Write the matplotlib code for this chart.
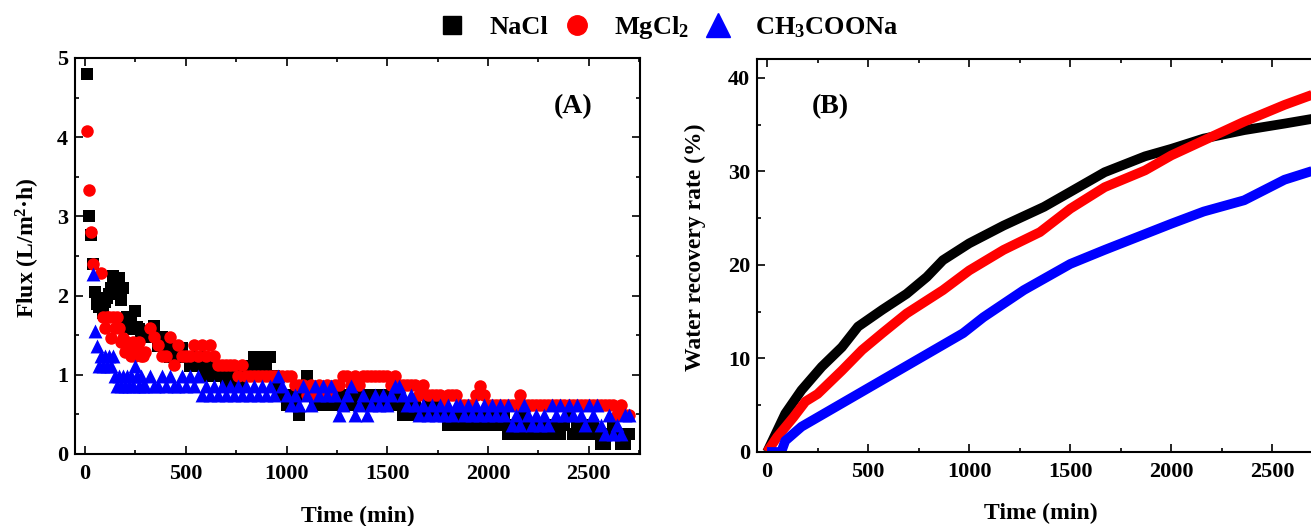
import matplotlib
matplotlib.use('Agg')
import matplotlib.pyplot as plt
from matplotlib.lines import Line2D
from matplotlib.ticker import MultipleLocator
import numpy as np

plt.rcParams['font.family'] = ['Liberation Serif', 'DejaVu Serif']
plt.rcParams['font.weight'] = 'bold'
plt.rcParams['mathtext.default'] = 'regular'

# ---- panel A: flux vs time (min) ----
time_a = [10, 20, 30, 40, 50, 60, 70, 80, 90, 100,
          110, 120, 130, 140, 150, 160, 170, 180, 190, 200,
          210, 220, 230, 240, 250, 260, 270, 280, 290, 300,
          320, 340, 360, 380, 400, 420, 440, 460, 480, 500,
          520, 540, 560, 580, 600, 620, 640, 660, 680, 700,
          720, 740, 760, 780, 800, 820, 840, 860, 880, 900,
          920, 940, 960, 980, 1000, 1020, 1040, 1060, 1080, 1100,
          1120, 1140, 1160, 1180, 1200, 1220, 1240, 1260, 1280, 1300,
          1320, 1340, 1360, 1380, 1400, 1420, 1440, 1460, 1480, 1500,
          1520, 1540, 1560, 1580, 1600, 1620, 1640, 1660, 1680, 1700,
          1720, 1740, 1760, 1780, 1800, 1820, 1840, 1860, 1880, 1900,
          1920, 1940, 1960, 1980, 2000, 2020, 2040, 2060, 2080, 2100,
          2120, 2140, 2160, 2180, 2200, 2220, 2240, 2260, 2280, 2300,
          2320, 2340, 2360, 2380, 2400, 2420, 2440, 2460, 2480, 2500,
          2520, 2540, 2560, 2580, 2600, 2620, 2640, 2660, 2680, 2700]

nan = np.nan
flux_nacl = [4.80, 3.00, 2.77, 2.40, 2.05, 1.90, 1.85, 1.97, 1.78, 1.92,
             1.97, 2.02, 2.10, 2.25, 2.18, 2.05, 2.22, 1.94, 2.10, 1.70,
             1.73, 1.60, 1.70, 1.58, 1.81, 1.60, 1.58, 1.48, 1.55, 1.48,
             1.48, 1.62, 1.36, 1.48, 1.36, 1.23, 1.36, 1.23, 1.34, 1.23,
             1.11, 1.23, 1.11, 1.23, 0.99, 1.11, 0.99, 0.99, 1.11, 0.86,
             0.99, 0.86, 0.99, 0.86, 0.99, 1.11, 1.23, 1.11, 1.23, 1.11,
             1.23, 0.99, 0.86, 0.74, 0.62, 0.74, 0.62, 0.49, 0.74, 0.99,
             0.74, 0.62, 0.74, 0.62, 0.62, 0.74, 0.62, 0.62, 0.74, 0.62,
             0.62, 0.74, 0.62, 0.62, 0.74, 0.62, 0.62, 0.74, 0.62, 0.74,
             0.62, 0.74, 0.62, 0.49, 0.62, 0.49, 0.62, 0.49, 0.49, 0.62,
             0.49, 0.62, 0.49, 0.49, 0.37, 0.49, 0.37, 0.49, 0.37, 0.49,
             0.37, 0.49, 0.37, 0.49, 0.37, 0.37, 0.49, 0.37, 0.49, 0.25,
             0.37, 0.25, 0.37, 0.49, 0.25, 0.37, 0.25, 0.37, 0.25, 0.37,
             0.25, 0.37, 0.25, 0.37, 0.49, 0.25, 0.37, 0.25, 0.37, 0.25,
             0.37, 0.25, 0.12, 0.12, 0.25, 0.37, 0.25, 0.12, 0.12, 0.25]

flux_mgcl2 = [4.08, 3.33, 2.80, 2.40, nan, nan, nan, 2.28, 1.73, 1.59,
              1.73, 1.73, 1.47, 1.73, 1.59, 1.73, 1.59, 1.42, 1.47, 1.29,
              1.42, 1.29, 1.24, 1.42, 1.24, 1.29, 1.42, 1.24, 1.24, 1.29,
              1.59, 1.48, 1.37, 1.24, 1.24, 1.48, 1.12, 1.37, 1.24, 1.24,
              1.24, 1.37, 1.24, 1.37, 1.24, 1.37, 1.24, 1.12, 1.12, 1.12,
              1.12, 1.12, 0.99, 1.12, 0.99, 0.99, 0.99, 0.99, 0.99, 0.99,
              0.99, 0.99, 0.99, 0.99, 0.99, 0.99, 0.87, 0.87, 0.87, 0.74,
              0.87, 0.74, 0.87, 0.74, 0.87, 0.74, 0.87, 0.87, 0.99, 0.99,
              0.87, 0.99, 0.87, 0.99, 0.99, 0.99, 0.99, 0.99, 0.99, 0.99,
              0.87, 0.99, 0.87, 0.87, 0.87, 0.87, 0.87, 0.74, 0.87, 0.74,
              0.74, 0.74, 0.74, 0.62, 0.74, 0.74, 0.74, 0.62, 0.62, 0.62,
              0.62, 0.74, 0.86, 0.74, 0.62, 0.62, 0.62, 0.62, 0.62, 0.62,
              0.62, 0.62, 0.74, 0.62, 0.62, 0.62, 0.62, 0.62, 0.62, 0.62,
              0.62, 0.62, 0.62, 0.62, 0.62, 0.62, 0.62, 0.62, 0.62, 0.62,
              0.62, 0.62, 0.62, 0.62, 0.62, 0.62, 0.49, 0.62, 0.49, 0.49]

flux_ch3coona = [nan, nan, nan, 2.27, 1.55, 1.36, 1.11, 1.24, 1.11, 1.24,
                 1.11, 1.24, 1.11, 1.24, 0.99, 0.86, 0.99, 0.86, 0.99, 0.86,
                 0.99, 0.86, 0.99, 0.86, 1.11, 0.99, 0.86, 0.99, 0.86, 0.86,
                 0.99, 0.86, 0.86, 0.99, 0.86, 0.99, 0.86, 0.86, 0.99, 0.86,
                 0.99, 0.86, 0.99, 0.74, 0.86, 0.74, 0.86, 0.74, 0.86, 0.74,
                 0.86, 0.74, 0.86, 0.74, 0.86, 0.74, 0.86, 0.74, 0.86, 0.74,
                 0.86, 0.74, 0.99, 0.86, 0.74, 0.62, 0.74, 0.62, 0.86, 0.74,
                 0.62, 0.86, 0.74, 0.86, 0.74, 0.86, 0.74, 0.49, 0.62, 0.74,
                 0.86, 0.49, 0.62, 0.74, 0.49, 0.62, 0.74, 0.62, 0.74, 0.62,
                 0.74, 0.86, 0.86, 0.74, 0.62, 0.74, 0.62, 0.49, 0.62, 0.49,
                 0.62, 0.49, 0.62, 0.49, 0.62, 0.49, 0.62, 0.62, 0.49, 0.62,
                 0.49, 0.62, 0.49, 0.62, 0.49, 0.62, 0.49, 0.62, 0.49, 0.62,
                 0.37, 0.49, 0.37, 0.62, 0.49, 0.37, 0.49, 0.37, 0.49, 0.37,
                 0.62, 0.49, 0.62, 0.49, 0.62, 0.49, 0.62, 0.49, 0.37, 0.62,
                 0.49, 0.62, 0.37, 0.25, 0.49, 0.25, 0.37, 0.25, 0.49, 0.49]

# ---- panel B: water recovery rate (%) ----
time_b_nacl = [0, 90, 170, 270, 370, 450, 570, 690, 790, 870, 1000,
               1170, 1370, 1500, 1670, 1870, 2000, 2160, 2360, 2560, 2750]
rec_nacl = [0, 4.1, 6.6, 9.1, 11.2, 13.4, 15.2, 16.9, 18.7, 20.5, 22.3,
            24.2, 26.2, 27.8, 29.9, 31.6, 32.4, 33.5, 34.4, 35.1, 35.8]
time_b_mgcl2 = [0, 50, 130, 190, 250, 370, 470, 570, 690, 870, 1000,
                1170, 1350, 1500, 1670, 1870, 2000, 2160, 2360, 2560, 2750]
rec_mgcl2 = [0, 1.6, 3.7, 5.4, 6.2, 8.7, 10.9, 12.7, 14.8, 17.3, 19.4,
             21.6, 23.5, 26.0, 28.3, 30.1, 31.7, 33.3, 35.3, 37.1, 38.6]
time_b_ch3coona = [0, 70, 90, 170, 370, 570, 770, 970, 1070, 1270,
                   1500, 1670, 2000, 2160, 2360, 2560, 2750]
rec_ch3coona = [0, 0, 1.2, 2.7, 5.2, 7.7, 10.2, 12.7, 14.4, 17.3,
                20.1, 21.6, 24.4, 25.7, 26.9, 29.1, 30.4]

labels = ['NaCl', 'MgCl$_2$', 'CH$_3$COONa']
colors = ['black', 'red', 'blue']
markers = ['s', 'o', '^']

TICK_FS = 16
LABEL_FS = 17


def style_axes(ax, ymax, ymajor, yminor):
    ax.set_xlim(-50, 2755)
    ax.set_ylim(0, ymax)
    ax.xaxis.set_major_locator(MultipleLocator(500))
    ax.xaxis.set_minor_locator(MultipleLocator(250))
    ax.yaxis.set_major_locator(MultipleLocator(ymajor))
    ax.yaxis.set_minor_locator(MultipleLocator(yminor))
    ax.tick_params(which='both', direction='in', top=True, right=True,
                   width=1.2, labelsize=TICK_FS)
    ax.tick_params(which='major', length=6)
    ax.tick_params(which='minor', length=3)
    ax.tick_params(axis='x', pad=7)
    ax.tick_params(axis='y', pad=5)
    for sp in ax.spines.values():
        sp.set_linewidth(1.5)
    for lab in ax.get_xticklabels() + ax.get_yticklabels():
        lab.set_fontweight('bold')


def place_labels(ax, ylab_x):
    ax.xaxis.label.set_va('center')
    ax.xaxis.set_label_coords(0.5, -0.157)
    ax.yaxis.label.set_va('center')
    ax.yaxis.label.set_rotation_mode('default')
    ax.yaxis.set_label_coords(ylab_x, 0.52)


fig = plt.figure(figsize=(13.11, 5.26), dpi=100)
axA = fig.add_axes([0.0572, 0.1369, 0.431, 0.7529])
axB = fig.add_axes([0.5774, 0.1407, 0.4325, 0.7471])

sizes = [69, 81, 100]
for y, c, m, s in zip([flux_nacl, flux_mgcl2, flux_ch3coona], colors, markers, sizes):
    axA.scatter(time_a, y, marker=m, s=s, c=c, linewidths=0, clip_on=False)

style_axes(axA, 5, 1, 0.5)
axA.set_xlabel('Time (min)', fontsize=LABEL_FS, fontweight='bold')
axA.set_ylabel('Flux (L/m$^2$\u00b7h)', fontsize=LABEL_FS, fontweight='bold')
place_labels(axA, -0.083)
axA.text(0.881, 0.877, '(A)', transform=axA.transAxes, fontsize=20,
         fontweight='bold', ha='center', va='center')

for t, y, c in zip([time_b_nacl, time_b_mgcl2, time_b_ch3coona],
                   [rec_nacl, rec_mgcl2, rec_ch3coona], colors):
    axB.plot(t, y, color=c, lw=7, solid_capstyle='butt', solid_joinstyle='round')

style_axes(axB, 42, 10, 5)
axB.set_xlabel('Time (min)', fontsize=LABEL_FS, fontweight='bold')
axB.set_ylabel('Water recovery rate (%)', fontsize=LABEL_FS, fontweight='bold')
place_labels(axB, -0.109)
axB.text(0.129, 0.88, '(B)', transform=axB.transAxes, fontsize=20,
         fontweight='bold', ha='center', va='center')

handles = [Line2D([], [], marker='s', color='black', ls='none', ms=13),
           Line2D([], [], marker='o', color='red', ls='none', ms=14),
           Line2D([], [], marker='^', color='blue', ls='none', ms=17)]
fig.legend(handles, labels, loc='center', bbox_to_anchor=(0.510, 0.947), ncol=3,
           frameon=False, handlelength=1.0, handletextpad=0.9, columnspacing=0.6,
           prop={'size': 19, 'weight': 'bold'})

fig.savefig('out.png', dpi=100)
